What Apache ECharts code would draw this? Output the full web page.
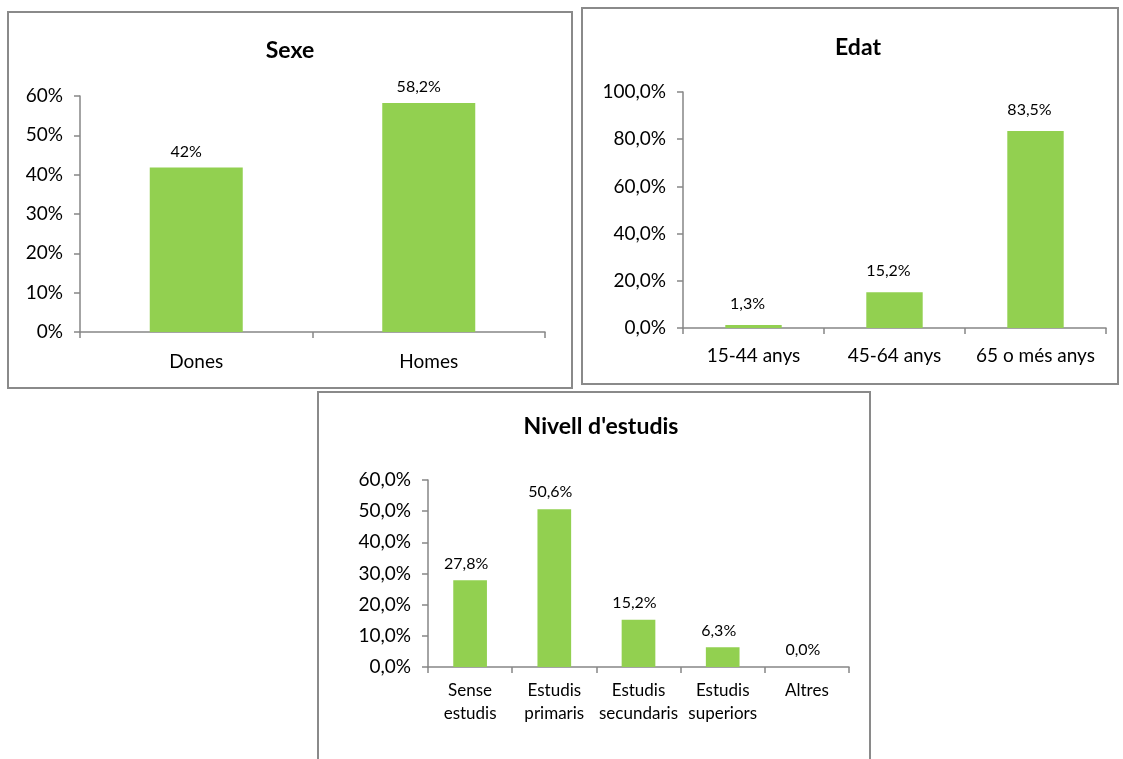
<!DOCTYPE html>
<html>
<head>
<meta charset="utf-8">
<script src="https://cdn.jsdelivr.net/npm/echarts@6/dist/echarts.min.js"></script>
<style>
html,body{margin:0;padding:0;background:#fff;}
#c{width:1123px;height:759px;}
</style>
</head>
<body>
<div id="c"></div>
<script>
// ---- Data ----
const sexeTitle = 'Sexe';
const sexeCategories = ['Dones', 'Homes'];
const sexeValues = [41.8, 58.2];
const sexeLabels = ['42%', '58,2%'];
const sexeTicks = [0, 10, 20, 30, 40, 50, 60];

const edatTitle = 'Edat';
const edatCategories = ['15-44 anys', '45-64 anys', '65 o més anys'];
const edatValues = [1.3, 15.2, 83.5];
const edatTicks = [0, 20, 40, 60, 80, 100];

const estudisTitle = "Nivell d'estudis";
const estudisCategories = ['Sense\nestudis', 'Estudis\nprimaris', 'Estudis\nsecundaris', 'Estudis\nsuperiors', 'Altres'];
const estudisValues = [27.8, 50.6, 15.2, 6.3, 0.0];
const estudisTicks = [0, 10, 20, 30, 40, 50, 60];

// ---- Chart ----
const FONT = 'Lato';
const GREEN = '#92D050';
const AXIS = '#868686';
const fmt1 = v => v.toFixed(1).replace('.', ',') + '%';

function xAxis(gi, cats, fontSize, margin, lineHeight) {
  return {
    type: 'category', gridIndex: gi, data: cats,
    axisLine: { lineStyle: { color: AXIS, width: 1.5 } },
    axisTick: { show: true, alignWithLabel: false, length: 6, lineStyle: { color: AXIS, width: 1.5 } },
    axisLabel: { color: '#000', fontFamily: FONT, fontSize: fontSize, margin: margin, interval: 0, lineHeight: lineHeight },
    splitLine: { show: false }
  };
}
function yAxis(gi, ticks, formatter, fontSize, margin) {
  return {
    type: 'value', gridIndex: gi, min: ticks[0], max: ticks[ticks.length - 1],
    interval: ticks[1] - ticks[0],
    axisLine: { show: true, lineStyle: { color: AXIS, width: 1.5 } },
    axisTick: { show: true, length: 6, lineStyle: { color: AXIS, width: 1.5 } },
    axisLabel: { color: '#000', fontFamily: FONT, fontSize: fontSize, margin: margin, formatter: formatter },
    splitLine: { show: false }
  };
}
function series(i, vals, fmt, dist, dx) {
  return {
    type: 'bar', xAxisIndex: i, yAxisIndex: i, data: vals, barWidth: '40%',
    itemStyle: { color: GREEN },
    label: { show: true, position: 'top', distance: dist, offset: [dx, 0], color: '#000', fontFamily: FONT, fontSize: 16, formatter: fmt },
    silent: true
  };
}
const titleStyle = { fontFamily: FONT, fontWeight: 'bold', fontSize: 23, color: '#000' };

const chart = echarts.init(document.getElementById('c'), null, { renderer: 'canvas' });
chart.setOption({
  animation: false,
  backgroundColor: '#fff',
  title: [
    { text: sexeTitle, left: 285, top: 34, textAlign: 'center', textStyle: titleStyle },
    { text: edatTitle, left: 853, top: 31, textAlign: 'center', textStyle: titleStyle },
    { text: estudisTitle, left: 596, top: 410, textAlign: 'center', textStyle: titleStyle }
  ],
  graphic: [
    { type: 'rect', shape: { x: 8, y: 12, width: 564, height: 376 }, style: { fill: 'none', stroke: '#8a8a8a', lineWidth: 2 }, z: -1 },
    { type: 'rect', shape: { x: 582, y: 8, width: 536, height: 376 }, style: { fill: 'none', stroke: '#8a8a8a', lineWidth: 2 }, z: -1 },
    { type: 'rect', shape: { x: 318, y: 392, width: 552, height: 400 }, style: { fill: 'none', stroke: '#8a8a8a', lineWidth: 2 }, z: -1 }
  ],
  grid: [
    { left: 80, top: 96, width: 465, height: 236 },
    { left: 683, top: 92, width: 423, height: 236 },
    { left: 428, top: 480, width: 421, height: 187 }
  ],
  xAxis: [
    xAxis(0, sexeCategories, 19, 20),
    xAxis(1, edatCategories, 19, 18),
    xAxis(2, estudisCategories, 17, 12, 23)
  ],
  yAxis: [
    yAxis(0, sexeTicks, v => v + '%', 19, 17),
    yAxis(1, edatTicks, fmt1, 19, 17),
    yAxis(2, estudisTicks, fmt1, 19, 17)
  ],
  series: [
    series(0, sexeValues, p => sexeLabels[p.dataIndex], 8, -10),
    series(1, edatValues, p => fmt1(p.value), 13, -6),
    series(2, estudisValues, p => fmt1(p.value), 9, -4)
  ]
});
</script>
</body>
</html>
